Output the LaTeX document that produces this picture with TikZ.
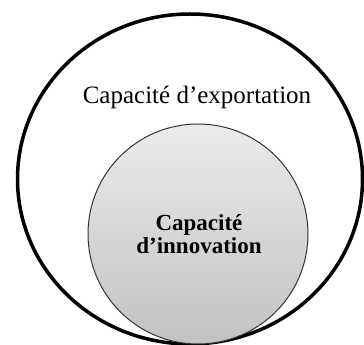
\documentclass[tikz,border=0pt]{standalone}
\usepackage{fontspec}
\setmainfont{Liberation Serif}
\definecolor{shadetop}{HTML}{EBEBEB}
\definecolor{shadebottom}{HTML}{C2C2C2}

\begin{document}
\begin{tikzpicture}[x=1pt,y=1pt]
\useasboundingbox (0,0) rectangle (364,345);
\draw[line width=3.5pt]
  (190,166) ellipse [x radius=172.5, y radius=165];
\shade[top color=shadetop, bottom color=shadebottom, draw=black!80, line width=1pt]
  (198,111) circle [radius=110];
\node (export) at (197,248) {\fontsize{25}{30}\selectfont Capacité d’exportation};
\node[align=center, font=\fontsize{23}{23}\selectfont\bfseries] (innov) at (199,111)
  {Capacité\\d’innovation};
\end{tikzpicture}
\end{document}
